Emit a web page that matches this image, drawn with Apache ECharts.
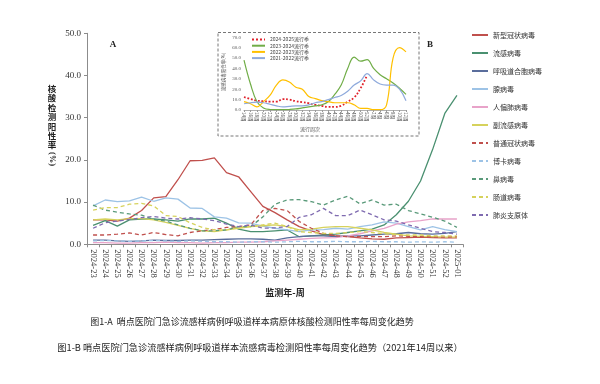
<!DOCTYPE html>
<html><head><meta charset="utf-8">
<script src="https://cdn.jsdelivr.net/npm/echarts@6/dist/echarts.min.js"></script>
<style>html,body{margin:0;padding:0;background:#fff}#c{width:600px;height:384px}</style>
</head><body><div id="c"></div>
<script>
const weeks = ['2024-23','2024-24','2024-25','2024-26','2024-27','2024-28','2024-29','2024-30','2024-31','2024-32','2024-33','2024-34','2024-35','2024-36','2024-37','2024-38','2024-39','2024-40','2024-41','2024-42','2024-43','2024-44','2024-45','2024-46','2024-47','2024-48','2024-49','2024-50','2024-51','2024-52','2025-01'];
const covid = [5.8,5.8,5.5,6.2,8.0,11.0,11.3,15.3,19.8,19.9,20.5,17.0,16.0,12.5,9.0,7.5,5.8,4.2,3.2,2.3,2.0,1.8,1.5,1.3,1.2,1.5,1.6,1.7,1.6,1.5,1.5];
const flu = [4.5,5.6,4.3,5.8,6.0,6.0,5.8,5.5,6.0,6.0,6.2,5.0,3.6,3.0,3.0,3.2,3.4,1.8,2.0,2.2,2.4,2.8,3.2,3.6,4.6,7.0,10.2,15.0,22.5,31.0,35.3];
const rsv = [1.0,1.0,0.8,0.7,0.8,1.0,0.9,0.9,1.0,1.0,1.1,1.2,1.3,1.3,1.2,1.0,1.5,1.8,2.0,2.0,1.8,2.0,2.0,2.2,2.4,2.5,2.8,2.5,2.4,2.6,3.0];
const adv = [9.1,10.5,10.1,10.3,11.2,10.2,11.0,10.7,8.6,8.5,6.5,6.2,5.1,5.0,4.3,3.8,3.4,3.0,3.4,3.5,3.8,3.6,4.2,4.6,5.3,5.0,4.2,3.4,4.2,3.5,3.0];
const hmpv = [0.4,0.4,0.3,0.3,0.4,0.4,0.5,0.4,0.4,0.3,0.4,0.4,0.5,0.5,0.6,0.8,1.0,1.2,1.4,1.5,1.6,2.0,2.5,3.2,3.8,4.8,5.3,5.6,6.0,6.0,6.0];
const piv = [5.8,6.0,5.8,6.1,6.1,5.8,5.2,4.5,3.8,3.2,3.0,3.4,3.8,4.2,4.4,4.6,4.2,3.4,3.6,4.0,4.2,4.2,3.8,3.4,2.8,2.4,2.0,1.9,1.8,1.7,1.7];
const hcov = [2.2,2.2,2.4,2.7,2.2,2.8,2.3,2.0,2.8,3.2,3.5,4.0,4.2,4.6,8.0,8.5,8.0,5.4,3.8,2.6,2.0,1.8,1.8,1.8,1.8,2.0,1.9,1.8,1.7,1.7,1.8];
const hbov = [0.8,0.9,0.8,0.7,0.8,0.9,0.8,0.7,0.8,0.7,0.6,0.6,0.5,0.6,0.6,0.5,0.6,0.7,0.6,0.6,0.7,0.6,0.6,0.7,0.6,0.6,0.5,0.6,0.5,0.6,0.5];
const hrv = [9.3,8.1,7.6,7.2,6.9,5.9,5.5,4.6,3.8,3.2,3.2,3.4,4.2,4.2,6.5,9.5,10.5,10.6,10.1,9.3,10.5,11.4,9.6,10.5,9.3,9.5,8.0,7.2,6.4,5.5,4.0];
const ev = [8.1,8.7,8.7,9.5,9.7,9.1,6.8,6.6,5.1,4.0,3.4,3.4,4.0,4.2,4.6,5.0,4.2,3.0,2.8,2.6,2.6,2.8,3.0,2.8,2.5,2.3,2.2,2.2,2.0,2.0,2.0];
const mp = [3.8,5.1,5.5,5.9,6.3,6.6,6.2,6.0,6.3,6.0,5.6,4.8,4.2,4.6,3.8,3.9,4.2,6.4,7.0,8.5,6.8,6.8,8.1,7.0,5.8,5.5,4.6,3.8,3.0,2.8,2.4];
const yTicks = [0,10,20,30,40,50];

const insetWeeks = ['14周','16周','18周','20周','22周','24周','26周','28周','30周','32周','34周','36周','38周','40周','42周','44周','46周','48周','50周','52周','2周','4周','6周','8周','10周','12周'];
const s2425 = [12.5,10.5,9,8.5,8,8,10.5,10,8.5,7.5,6.5,5,4,3,3,4,8,12,21,33.6,null,null,null,null,null,null];
const s2324 = [48,25,8,2,0.5,0.3,0.3,0.5,1,2,3,4,5,8,15,24,40,51,47,48.5,40,34,30,26,21,15];
const s2223 = [8,6,3,8,14,24,29,27,22,20,13,11,9,8,7,7,7,5,1.5,1.5,0.3,0.3,5,50,60,56];
const s2122 = [6,7,7.5,7,5.5,4,3,3.5,4,4,5,7,8,10,12,14,18,24,28,35,29,25,24,24,20,9];

const mainDefs = [
  ['新型冠状病毒', covid, '#C0504D', 'solid'],
  ['流感病毒', flu, '#4A9070', 'solid'],
  ['呼吸道合胞病毒', rsv, '#5A6D9C', 'solid'],
  ['腺病毒', adv, '#9DC3E6', 'solid'],
  ['人偏肺病毒', hmpv, '#E8A3C9', 'solid'],
  ['副流感病毒', piv, '#D6D25C', 'solid'],
  ['普通冠状病毒', hcov, '#C0504D', [4,3]],
  ['博卡病毒', hbov, '#9DC3E6', [4,3]],
  ['鼻病毒', hrv, '#5A9A7A', [4,3]],
  ['肠道病毒', ev, '#D6D25C', [4,3]],
  ['肺炎支原体', mp, '#7F6BB0', [4,3]]
];
const insetDefs = [
  ['2024-2025流行季', s2425, '#E0202A', 'dotted', 1.8],
  ['2023-2024流行季', s2324, '#70AD47', 'solid', 1.2],
  ['2022-2023流行季', s2223, '#FFC000', 'solid', 1.2],
  ['2021-2022流行季', s2122, '#8FAADC', 'solid', 1.2]
];

const cjk = '"Noto Sans CJK SC", sans-serif';
const serif = '"Liberation Serif", "DejaVu Serif", serif';

const series = [];
mainDefs.forEach(d => series.push({
  name: d[0], type: 'line', xAxisIndex: 0, yAxisIndex: 0, data: d[1],
  symbol: 'none', smooth: false, lineStyle: {color: d[2], width: 1.3, type: d[3]},
  itemStyle: {color: d[2]}
}));
insetDefs.forEach(d => series.push({
  name: d[0], type: 'line', xAxisIndex: 1, yAxisIndex: 1, data: d[1],
  symbol: 'none', smooth: 0.4, connectNulls: false,
  lineStyle: {color: d[2], width: d[4], type: d[3]}, itemStyle: {color: d[2]}
}));

const option = {
  animation: false,
  backgroundColor: '#ffffff',
  grid: [
    {left: 87, right: 137, top: 33.3, bottom: 139.7},
    {left: 244, right: 194, top: 37.3, bottom: 274}
  ],
  legend: [
    {data: mainDefs.map(d => d[0]), orient: 'vertical', left: 466, top: 26,
     itemWidth: 16, itemHeight: 8, itemGap: 10,
     itemStyle: {opacity: 0, borderWidth: 0},
     textStyle: {fontSize: 7, lineHeight: 8, color: '#333', fontFamily: cjk}},
    {data: insetDefs.map(d => d[0]), orient: 'vertical', left: 251, top: 37,
     itemWidth: 13, itemHeight: 4, itemGap: 1.2, padding: 0,
     itemStyle: {opacity: 0, borderWidth: 0},
     textStyle: {fontSize: 5, lineHeight: 4, color: '#444', fontFamily: cjk}}
  ],
  xAxis: [
    {gridIndex: 0, type: 'category', data: weeks, boundaryGap: true,
     axisLine: {lineStyle: {color: '#8c8c8c', width: 1}},
     axisTick: {show: true, length: 3, lineStyle: {color: '#8c8c8c'}},
     axisLabel: {rotate: -90, interval: 0, fontFamily: serif, fontSize: 8.5, color: '#333', margin: 5}},
    {gridIndex: 1, type: 'category', data: insetWeeks, boundaryGap: false,
     axisLine: {lineStyle: {color: '#9a9a9a', width: 0.8}},
     axisTick: {show: true, length: 2, lineStyle: {color: '#9a9a9a'}},
     axisLabel: {rotate: -90, interval: 0, fontFamily: cjk, fontSize: 4.5, color: '#555', margin: 2}}
  ],
  yAxis: [
    {gridIndex: 0, type: 'value', min: yTicks[0], max: yTicks[yTicks.length-1], interval: 10,
     axisLine: {show: true, lineStyle: {color: '#8c8c8c'}},
     axisTick: {show: true, length: 3, lineStyle: {color: '#8c8c8c'}},
     splitLine: {show: false},
     axisLabel: {formatter: v => v.toFixed(1), fontFamily: serif, fontSize: 9, color: '#333', margin: 6}},
    {gridIndex: 1, type: 'value', min: 0, max: 70, interval: 10,
     axisLine: {show: false}, axisTick: {show: false}, splitLine: {show: false},
     axisLabel: {formatter: v => v.toFixed(1), fontFamily: serif, fontSize: 5, color: '#555', margin: 3}}
  ],
  graphic: [
    {type: 'rect', shape: {x: 218, y: 32.5, width: 201, height: 103.5}, z: 0,
     style: {fill: 'none', stroke: '#777', lineWidth: 1, lineDash: [3, 2]}},
    {type: 'text', x: 113, y: 45, style: {text: 'A', font: 'bold 9px ' + serif, fill: '#222', align: 'center', verticalAlign: 'middle'}},
    {type: 'text', x: 430, y: 45, style: {text: 'B', font: 'bold 9px ' + serif, fill: '#222', align: 'center', verticalAlign: 'middle'}},
    {type: 'text', x: 52, y: 84, style: {text: '核\n酸\n检\n测\n阳\n性\n率', font: 'bold 8.5px ' + cjk, lineHeight: 9.4, fill: '#222', align: 'center', verticalAlign: 'top'}},
    {type: 'text', x: 52, y: 159, rotation: -Math.PI/2, style: {text: '(%)', font: 'bold 8.5px ' + serif, fill: '#222', align: 'center', verticalAlign: 'middle'}},
    {type: 'text', x: 285, y: 293, style: {text: '监测年-周', font: 'bold 9px ' + cjk, fill: '#222', align: 'center', verticalAlign: 'middle'}},
    {type: 'text', x: 310, y: 129, style: {text: '流行周次', font: '5px ' + cjk, fill: '#555', align: 'center', verticalAlign: 'middle'}},
    {type: 'text', x: 223, y: 72, rotation: Math.PI/2, style: {text: '流感病毒阳性率(%)', font: '4.5px ' + cjk, fill: '#555', align: 'center', verticalAlign: 'middle'}},
    {type: 'text', x: 252, y: 322, style: {text: '图1-A  哨点医院门急诊流感样病例呼吸道样本病原体核酸检测阳性率每周变化趋势', font: '9px ' + cjk, fill: '#222', align: 'center', verticalAlign: 'middle'}},
    {type: 'text', x: 260, y: 348, style: {text: '图1-B 哨点医院门急诊流感样病例呼吸道样本流感病毒检测阳性率每周变化趋势（2021年14周以来）', font: '9.2px ' + cjk, fill: '#222', align: 'center', verticalAlign: 'middle'}}
  ],
  series: series
};
const chart = echarts.init(document.getElementById('c'), null, {renderer: 'canvas'});
chart.setOption(option);
</script></body></html>
